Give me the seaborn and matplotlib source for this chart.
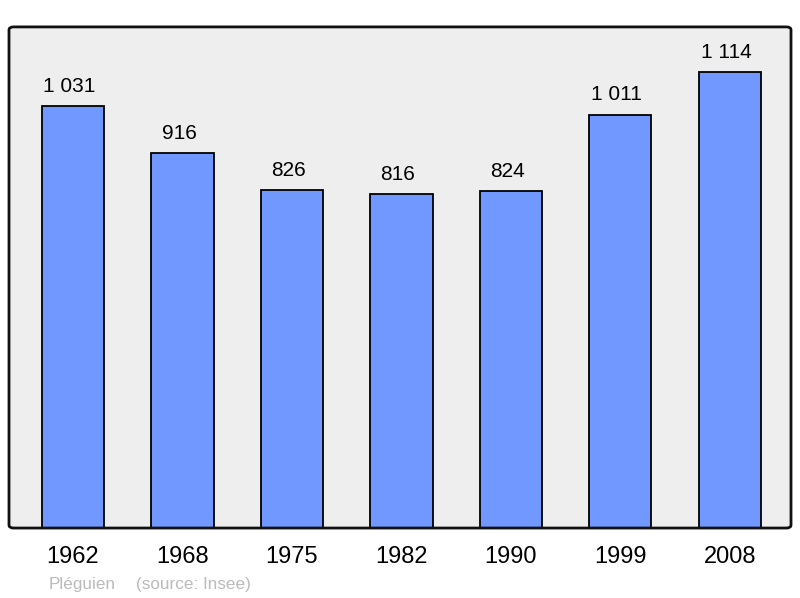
import matplotlib
matplotlib.use("Agg")
import pandas as pd
import seaborn as sns
import matplotlib.pyplot as plt
from matplotlib.patches import FancyBboxPatch

years = ["1962", "1968", "1975", "1982", "1990", "1999", "2008"]
population = [1031, 916, 826, 816, 824, 1011, 1114]
value_labels = ["1 031", "916", "826", "816", "824", "1 011", "1 114"]
commune = "Pléguien"
source = "(source: Insee)"

df = pd.DataFrame({"year": years, "pop": population})

sns.set_style("white")
plt.rcParams["font.family"] = ["Liberation Sans", "DejaVu Sans"]

fig = plt.figure(figsize=(8, 5.98), dpi=100)
ax = fig.add_axes([0.01125, 0.117, 0.9775, 0.838])

sns.barplot(data=df, x="year", y="pop", color="#7098ff", saturation=1,
            width=0.57, edgecolor="black", linewidth=1.3, ax=ax, zorder=2)

ax.set_ylim(0, max(population) * 1.1)
ax.set_xlim(-0.585, 6.56)
ax.set_xlabel("")
ax.set_ylabel("")
ax.set_yticks([])
ax.tick_params(axis="x", length=0, pad=13, labelsize=17, labelcolor="black")
for s in ax.spines.values():
    s.set_visible(False)
ax.set_facecolor("none")

# rounded background frame
bg = FancyBboxPatch((0, 0), 1, 1, boxstyle="round,pad=0,rounding_size=0.006",
                    transform=ax.transAxes, facecolor="#eeeeee",
                    edgecolor="none", zorder=0, clip_on=False)
edge = FancyBboxPatch((0, 0), 1, 1, boxstyle="round,pad=0,rounding_size=0.006",
                      transform=ax.transAxes, facecolor="none",
                      edgecolor="#111111", linewidth=2, zorder=4, clip_on=False)
ax.add_patch(bg)
ax.add_patch(edge)

for i, (v, lab) in enumerate(zip(population, value_labels)):
    ax.annotate(lab, (i, v), xytext=(-2.5, 7.5), textcoords="offset points",
                ha="center", va="bottom", fontsize=15, color="black")

fig.text(49 / 800, 1 - 584 / 598, commune, fontsize=12.3, color="#bbbbbb",
         va="center", ha="left")
fig.text(136 / 800, 1 - 584 / 598, source, fontsize=12.3, color="#bbbbbb",
         va="center", ha="left")

fig.savefig("out.png", dpi=100)
